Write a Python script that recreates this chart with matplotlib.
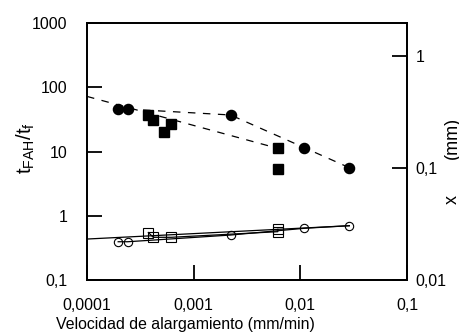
import matplotlib
matplotlib.use("Agg")
import matplotlib.pyplot as plt
from matplotlib.ticker import FixedLocator, FixedFormatter, NullLocator

plt.rcParams['font.family'] = ['Liberation Sans', 'DejaVu Sans']
plt.rcParams['mathtext.fontset'] = 'custom'
plt.rcParams['mathtext.rm'] = 'Liberation Sans'
plt.rcParams['mathtext.it'] = 'Liberation Sans'

# Data
fc_x = [0.000196, 0.000241, 0.00222, 0.0109, 0.0288]
fc_y = [45.8, 45.8, 37.0, 11.2, 5.6]
fs_x = [0.000376, 0.000418, 0.000531, 0.000617, 0.00615, 0.00615]
fs_y = [37.0, 30.9, 19.9, 26.8, 11.2, 5.35]
oc_x = [0.000196, 0.000241, 0.00222, 0.0109, 0.0288]
oc_y = [0.394, 0.394, 0.501, 0.638, 0.70]
os_x = [0.000376, 0.000418, 0.000617, 0.00615, 0.00615]
os_y = [0.548, 0.462, 0.462, 0.565, 0.615]
# dashed fit lines
dashA_x = [0.000335, 0.00222, 0.0288]
dashA_y = [44.3, 37.0, 5.6]
dashB_x = [0.0001, 0.00615]
dashB_y = [72.0, 11.2]
# solid fit line
fit_x = [0.0001, 0.0288]
fit_y = [0.434, 0.70]

xticks = [0.0001, 0.001, 0.01, 0.1]
xticklabels = ['0,0001', '0,001', '0,01', '0,1']
yticks = [0.1, 1, 10, 100, 1000]
yticklabels = ['0,1', '1', '10', '100', '1000']
y2ticks = [0.01, 0.1, 1]
y2ticklabels = ['0,01', '0,1', '1']

fig = plt.figure(figsize=(4.59, 3.36), dpi=100)
ax = fig.add_axes([87/459, 1-280/336, 320/459, 257/336])
ax.set_xscale('log')
ax.set_yscale('log')
ax.set_xlim(0.0001, 0.1)
ax.set_ylim(0.1, 1000)

ax.plot(dashA_x, dashA_y, color='black', lw=0.9, dashes=(6, 6))
ax.plot(dashB_x, dashB_y, color='black', lw=0.9, dashes=(6, 6))
ax.plot(fit_x, fit_y, color='black', lw=0.9)
ax.plot(oc_x, oc_y, color='black', lw=0.9, marker='o', ms=6, mfc='none', mec='black', mew=0.8)
ax.plot(os_x, os_y, color='black', lw=0.9, marker='s', ms=6.5, mfc='none', mec='black', mew=0.8)
ax.plot(fc_x, fc_y, ls='none', marker='o', ms=7.3, color='black')
ax.plot(fs_x, fs_y, ls='none', marker='s', ms=7.3, color='black')

for s in ax.spines.values():
    s.set_linewidth(1.3)
ax.xaxis.set_major_locator(FixedLocator(xticks))
ax.xaxis.set_major_formatter(FixedFormatter(xticklabels))
ax.xaxis.set_minor_locator(NullLocator())
ax.yaxis.set_major_locator(FixedLocator(yticks))
ax.yaxis.set_major_formatter(FixedFormatter(yticklabels))
ax.yaxis.set_minor_locator(NullLocator())
ax.tick_params(axis='both', which='major', direction='in', length=10.8, width=1.3,
               labelsize=11.5, colors='black')
ax.tick_params(axis='y', pad=14)
ax.tick_params(axis='x', pad=13)
ax.tick_params(top=False, right=False)

ax2 = ax.twinx()
ax2.set_yscale('log')
ax2.set_ylim(0.01, 1.97)
ax2.yaxis.set_major_locator(FixedLocator(y2ticks))
ax2.yaxis.set_major_formatter(FixedFormatter(y2ticklabels))
ax2.yaxis.set_minor_locator(NullLocator())
ax2.tick_params(axis='y', direction='in', length=10.8, width=1.3, labelsize=11.5, pad=6)
for s in ax2.spines.values():
    s.set_linewidth(1.3)

fig.text(185/459, 1-325/336, 'Velocidad de alargamiento (mm/min)', ha='center', va='center', fontsize=11.4)
fig.text(26/459, 1-148/336, r'$\mathregular{t_{FAH}/t_f}$', rotation=90, ha='center', va='center', fontsize=14.5)
fig.text(452/459, 1-200/336, 'x', rotation=90, ha='center', va='center', fontsize=13)
fig.text(452/459, 1-138/336, '(mm)', rotation=90, ha='center', va='center', fontsize=13)

fig.savefig('out.png', dpi=100)
